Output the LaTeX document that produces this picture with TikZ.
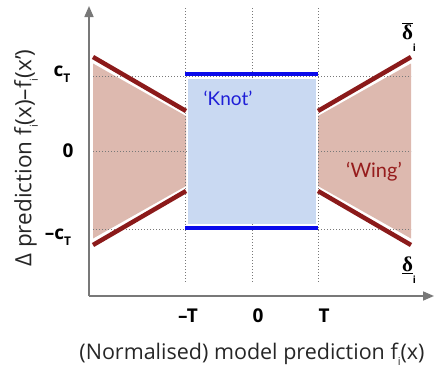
\documentclass[tikz,border=0pt]{standalone}
\usepackage{fontspec}
\setmainfont{Open Sans}
\newfontfamily\latofont{Lato}
\newfontfamily\dserif{Liberation Serif}
\usetikzlibrary{arrows.meta}
\definecolor{wred}{RGB}{139,26,26}
\definecolor{wfill}{RGB}{221,185,175}
\definecolor{kfill}{RGB}{201,217,242}
\definecolor{kblue}{RGB}{10,10,235}
\definecolor{ktext}{RGB}{30,30,215}
\definecolor{wtext}{RGB}{150,28,28}
\definecolor{axgray}{RGB}{120,120,120}
\newcommand\lowsub[1]{\raisebox{-0.55ex}{\fontsize{11}{11}\selectfont #1}}
\newcommand\boldsub[1]{\raisebox{-0.6ex}{\fontsize{12}{12}\selectfont\bfseries #1}}
\begin{document}
\begin{tikzpicture}[x=1pt,y=-1pt,
  dots/.style={axgray, line width=0.9pt, dash pattern=on 0.9pt off 2.1pt},
  wingline/.style={wred, line width=4.5pt},
  knotline/.style={kblue, line width=4pt},
  axisline/.style={axgray, line width=1.6pt, -{Triangle[length=11pt,width=9pt]}},
  ticklab/.style={inner sep=0pt, font=\bfseries\fontsize{19}{19}\selectfont},
  axlab/.style={inner sep=0pt, font=\fontsize{21.5}{21.5}\selectfont, text=black!85},
  deltalab/.style={inner sep=0pt, font=\dserif\bfseries\fontsize{21}{21}\selectfont},
]
\useasboundingbox (0,0) rectangle (448,372);

% wing fills
\fill[wfill] (93,63.5) -- (186,116) -- (186,186) -- (93,238.5) -- cycle;
\fill[wfill] (411,63.5) -- (318,116) -- (318,186) -- (411,238.5) -- cycle;

% dotted guides
\coordinate (vA1) at (185,8);   \coordinate (vA2) at (185,283);
\coordinate (vB1) at (252,8);   \coordinate (vB2) at (252,283);
\coordinate (vC1) at (318,8);   \coordinate (vC2) at (318,283);
\coordinate (hA1) at (93,76);   \coordinate (hA2) at (411,76);
\coordinate (hB1) at (93,151);  \coordinate (hB2) at (411,151);
\coordinate (hC1) at (93,229);  \coordinate (hC2) at (411,229);
\draw[dots] (vA1) -- (vA2);
\draw[dots] (vB1) -- (vB2);
\draw[dots] (vC1) -- (vC2);
\draw[dots] (hA1) -- (hA2);
\draw[dots] (hB1) -- (hB2);
\draw[dots] (hC1) -- (hC2);

% knot
\fill[kfill] (188,79) rectangle (316,224);
\coordinate (kt1) at (185,74);  \coordinate (kt2) at (318,74);
\coordinate (kb1) at (185,228); \coordinate (kb2) at (318,228);
\draw[knotline] (kt1) -- (kt2);
\draw[knotline] (kb1) -- (kb2);

% wing lines
\coordinate (wl1) at (93,57);   \coordinate (wl2) at (186,111);
\coordinate (wl3) at (93,245);  \coordinate (wl4) at (186,191);
\coordinate (wr1) at (318,111); \coordinate (wr2) at (411,57);
\coordinate (wr3) at (318,191); \coordinate (wr4) at (411,245);
\draw[wingline] (wl1) -- (wl2);
\draw[wingline] (wl3) -- (wl4);
\draw[wingline] (wr1) -- (wr2);
\draw[wingline] (wr3) -- (wr4);

% axes
\coordinate (O) at (89,296);
\coordinate (ytop) at (89,6);
\coordinate (xend) at (434,296);
\draw[axisline] (O) -- (ytop);
\draw[axisline] (O) -- (xend);

% tick labels
\node[ticklab] (lcT) at (62,74) {c\boldsub{T}};
\node[ticklab] (l0) at (68,151) {0};
\node[ticklab] (lmcT) at (58,237) {–c\boldsub{T}};
\node[ticklab] (lmT) at (188,316) {–T};
\node[ticklab] (lz) at (258,316) {0};
\node[ticklab] (lT) at (324,316) {T};

% region labels
\node[inner sep=0pt, text=ktext, font=\latofont\fontsize{19}{19}\selectfont] (knot) at (228,98) {‘Knot’};
\node[inner sep=0pt, text=wtext, font=\latofont\fontsize{20}{20}\selectfont] (wing) at (374,172) {‘Wing’};

% delta labels
\node[deltalab] (dup) at (409,37) {$\overline{\hbox{\dserif\bfseries δ}}$\raisebox{-1.2ex}{\rmfamily\fontsize{10}{10}\selectfont i}};
\node[deltalab] (dlo) at (409,270) {$\underline{\hbox{\dserif\bfseries δ}}$\raisebox{-1.2ex}{\rmfamily\fontsize{10}{10}\selectfont i}};

% axis titles
\node[axlab] (xlab) at (252,354) {(Normalised) model prediction f\lowsub{i}(x)};
\node[axlab, font=\fontsize{22.5}{22.5}\selectfont, rotate=90] (ylab) at (26,158) {Δ prediction f\lowsub{i}(x)–f\lowsub{i}(x’)};
\end{tikzpicture}
\end{document}
